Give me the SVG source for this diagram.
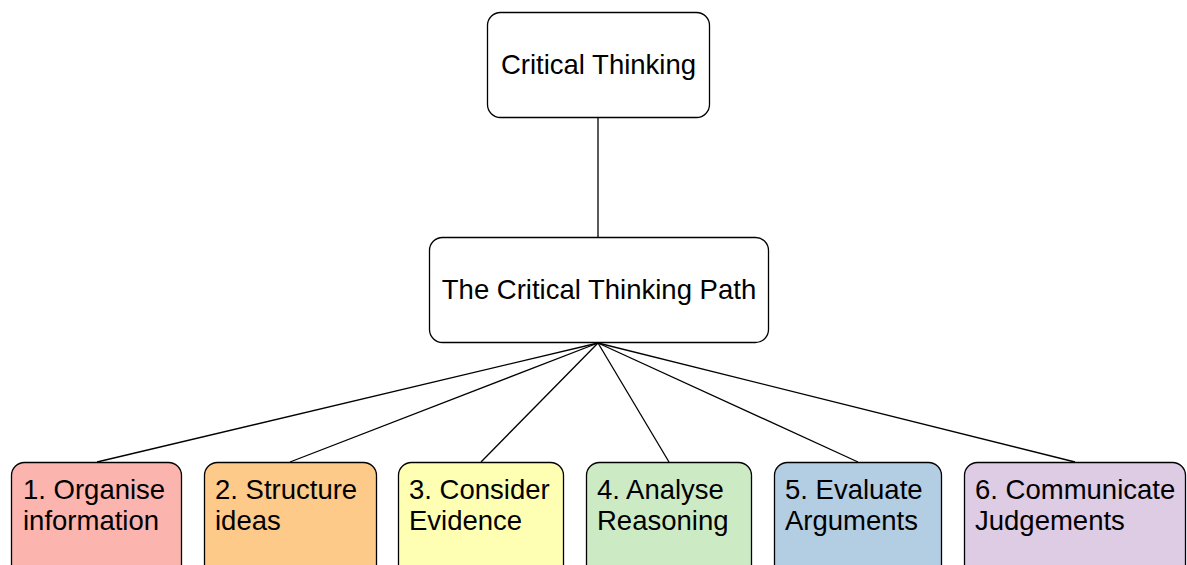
<svg xmlns="http://www.w3.org/2000/svg" width="1187" height="565" viewBox="0 0 1187 565">
<style>
.box{stroke:#000;stroke-width:1.3}
.t{font-family:"Liberation Sans",Arial,sans-serif;font-size:27.5px;fill:#000}
.c{text-anchor:middle}
.edge{stroke:#000;stroke-width:1.3;fill:none}
</style>
<rect width="1187" height="565" fill="#fff"/>
<g id="connectors">
<line class="edge" x1="598" y1="117" x2="598" y2="237"/>
<line class="edge" x1="598" y1="343" x2="97" y2="462"/>
<line class="edge" x1="598" y1="343" x2="290" y2="462"/>
<line class="edge" x1="598" y1="343" x2="481" y2="462"/>
<line class="edge" x1="598" y1="343" x2="669" y2="462"/>
<line class="edge" x1="598" y1="343" x2="858" y2="462"/>
<line class="edge" x1="598" y1="343" x2="1075" y2="462"/>
</g>
<g id="critical-thinking">
<rect class="box" x="487.5" y="12.5" width="222" height="105" rx="13" fill="#fff"/>
<text class="t c" x="598.5" y="74">Critical Thinking</text>
</g>
<g id="path">
<rect class="box" x="429.5" y="237.5" width="339" height="105" rx="13" fill="#fff"/>
<text class="t c" x="599" y="299">The Critical Thinking Path</text>
</g>
<g id="n1">
<rect class="box" x="11.5" y="462.5" width="170" height="120" rx="13" fill="#fbb4ae"/>
<text class="t" x="23" y="499">1. Organise</text>
<text class="t" x="23" y="530">information</text>
</g>
<g id="n2">
<rect class="box" x="204.5" y="462.5" width="172" height="120" rx="13" fill="#fdca8a"/>
<text class="t" x="215" y="499">2. Structure</text>
<text class="t" x="215" y="530">ideas</text>
</g>
<g id="n3">
<rect class="box" x="398.5" y="462.5" width="165" height="120" rx="13" fill="#ffffb3"/>
<text class="t" x="409" y="499">3. Consider</text>
<text class="t" x="409" y="530">Evidence</text>
</g>
<g id="n4">
<rect class="box" x="586.5" y="462.5" width="165" height="120" rx="13" fill="#ccebc5"/>
<text class="t" x="597" y="499">4. Analyse</text>
<text class="t" x="597" y="530">Reasoning</text>
</g>
<g id="n5">
<rect class="box" x="774.5" y="462.5" width="167" height="120" rx="13" fill="#b3cde3"/>
<text class="t" x="785" y="499">5. Evaluate</text>
<text class="t" x="785" y="530">Arguments</text>
</g>
<g id="n6">
<rect class="box" x="964.5" y="462.5" width="221" height="120" rx="13" fill="#decbe4"/>
<text class="t" x="975" y="499">6. Communicate</text>
<text class="t" x="975" y="530">Judgements</text>
</g>
</svg>
